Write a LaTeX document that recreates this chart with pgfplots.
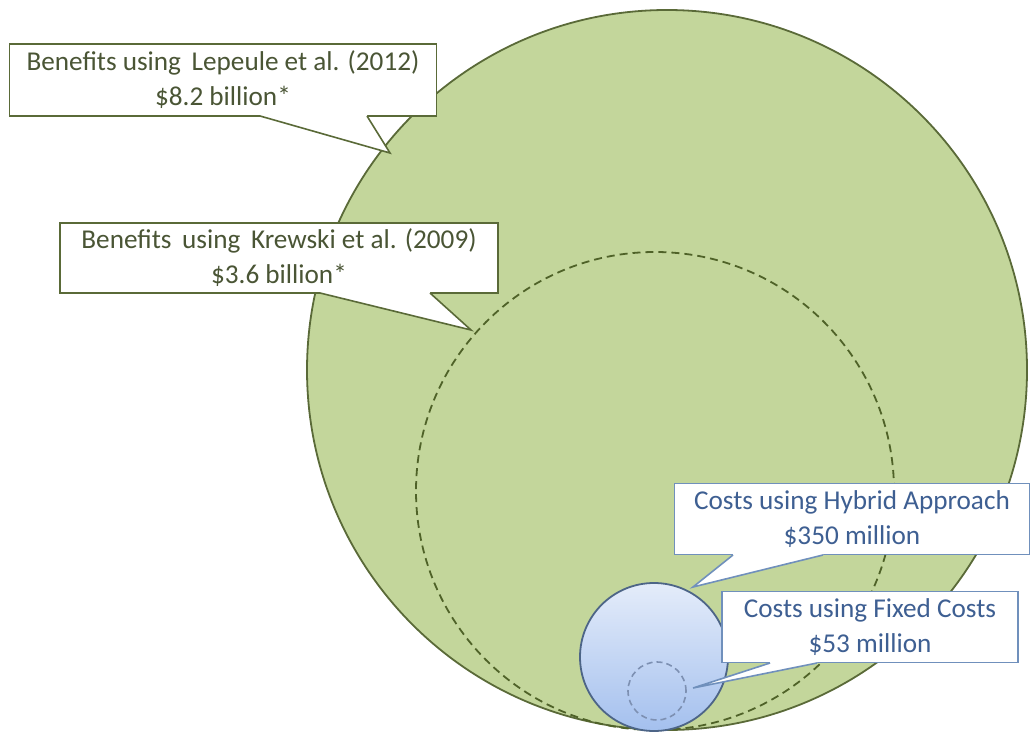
\documentclass[border=0pt]{standalone}
\usepackage{fontspec}
\setmainfont{Carlito}
\usepackage{pgfplots}
\pgfplotsset{compat=1.18}

\definecolor{bigfill}{HTML}{C3D69B}
\definecolor{bigline}{HTML}{5A6A38}
\definecolor{dashline}{HTML}{4F6228}
\definecolor{benefittext}{HTML}{4A5535}
\definecolor{costtext}{HTML}{3E5F92}
\definecolor{costline}{HTML}{7090BC}
\definecolor{bluetop}{HTML}{E4ECFA}
\definecolor{bluebot}{HTML}{A4C0EE}
\definecolor{blueline}{HTML}{4D6587}
\definecolor{smalldash}{HTML}{7D90B2}

% circles: centre (x,y) and radius r, in pixels of the original picture
\pgfplotstableread{
x y r
667 370 360
}\benefitsA
\pgfplotstableread{
x y r
655 491 239
}\benefitsB
\pgfplotstableread{
x y r
654 657 74
}\costsA
\pgfplotstableread{
x y r
657 691 29
}\costsB

% a circle of radius r drawn as a node at the data point (1 px = 0.5pt)
\pgfplotsset{
  bubble/.style={
    only marks, mark=none,
    visualization depends on={\thisrow{r} \as \dia},
    nodes near coords={},
    every node near coord/.style={circle, anchor=center, inner sep=0pt,
      minimum size=\dia*1pt, #1},
  },
}
\tikzset{
  box/.style={
    rectangle, fill=white, inner sep=0pt, align=center,
    font=\fontsize{13.6}{17.5}\selectfont, line width=0.8pt,
  },
}
% pointer: base from (#1,#3) to (#2,#3), tip at (#4,#5)
\newcommand\pointer[6]{%
  \fill[white] (#1,#3-2) -- (#1,#3) -- (#4,#5) -- (#2,#3) -- (#2,#3-2) -- cycle;
  \draw[#6, line width=0.8pt] (#1,#3) -- (#4,#5) -- (#2,#3);
}

\begin{document}
\begin{tikzpicture}
\begin{axis}[
  width=515.5pt, height=370pt, scale only axis,
  xmin=0, xmax=1031, ymin=0, ymax=740, y dir=reverse,
  hide axis, clip=false, set layers=standard,
]
\addplot[draw=none, mark=none] coordinates {(0,0) (1031,740)};

\addplot[bubble={draw=bigline, fill=bigfill, line width=0.9pt}] table {\benefitsA};
\addplot[bubble={draw=dashline, line width=0.9pt, dash pattern=on 4pt off 2.5pt}] table {\benefitsB};
\addplot[bubble={draw=blueline, line width=0.9pt, top color=bluetop, bottom color=bluebot}] table {\costsA};
\addplot[bubble={draw=smalldash, line width=0.8pt, dash pattern=on 3pt off 2pt}] table {\costsB};

\begin{pgfonlayer}{axis foreground}
\node[box, draw=bigline, text=benefittext, minimum width=213.5pt, minimum height=36pt]
  at (223,80) {Benefits using\, Lepeule et al. (2012)\\\$8.2 billion*};
\pointer{260}{367}{116}{390}{153}{bigline}

\node[box, draw=bigline, text=benefittext, minimum width=219pt, minimum height=35pt]
  at (279,258) {Benefits\, using\, Krewski et al. (2009)\\\$3.6 billion*};
\pointer{320}{430}{293}{471}{330}{bigline}

\node[box, draw=costline, text=costtext, minimum width=177.5pt, minimum height=35.5pt]
  at (852,519) {Costs using Hybrid Approach\\\$350 million};
\pointer{733}{823}{555}{693}{587}{costline}

\node[box, draw=costline, text=costtext, minimum width=148pt, minimum height=35.5pt]
  at (870,627) {Costs using Fixed Costs\\\$53 million};
\pointer{770}{817}{663}{693}{688}{costline}
\end{pgfonlayer}
\end{axis}
\end{tikzpicture}
\end{document}
